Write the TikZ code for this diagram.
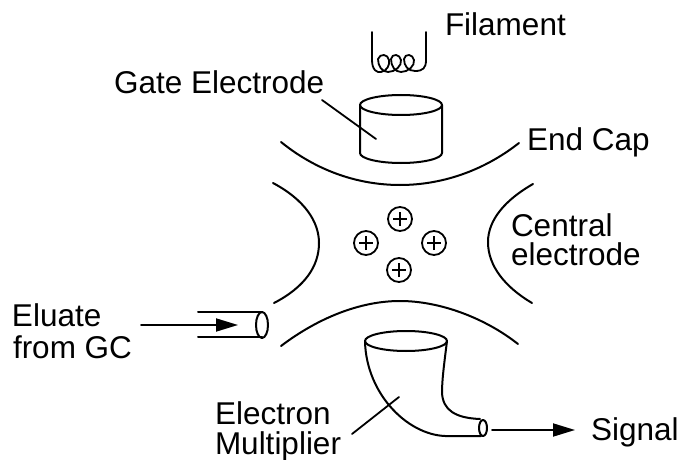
\documentclass[tikz,border=0pt]{standalone}
\usepackage{fontspec}
\setmainfont{Liberation Sans}
\usetikzlibrary{arrows.meta}
\tikzset{
  ln/.style={line width=2pt,black,line join=round,line cap=round},
  thin ln/.style={line width=1.8pt,black,line cap=round},
  lab/.style={font=\fontsize{31.5}{31.5}\selectfont,inner sep=0pt,outer sep=0pt,align=left,text=black},
  arr/.style={thin ln,-{Triangle[length=22pt,width=13pt]}},
  ion/.style={circle,draw,line width=1.8pt,minimum size=24pt,inner sep=0pt,path picture={
    \draw[line width=1.6pt] ([xshift=-7pt]path picture bounding box.center)--([xshift=7pt]path picture bounding box.center);
    \draw[line width=1.6pt] ([yshift=-7pt]path picture bounding box.center)--([yshift=7pt]path picture bounding box.center);}}
}
\begin{document}
\begin{tikzpicture}[x=1pt,y=-1pt]
\useasboundingbox[fill=white] (0,0) rectangle (681,460);
% labels
\node[lab,anchor=base west] (filament) at (445,36) {Filament};
\node[lab,anchor=base west] (gate) at (114,94) {Gate Electrode};
\node[lab,anchor=base west] (endcap) at (527,150) {End Cap};
\node[lab,anchor=base west] (central) at (511,236) {Central};
\node[lab,anchor=base west] (centralb) at (511,265) {electrode};
\node[lab,anchor=base west] (eluate) at (12,326) {Eluate};
\node[lab,anchor=base west] (fromgc) at (13,358) {from GC};
\node[lab,anchor=base west] (electron) at (215,424) {Electron};
\node[lab,anchor=base west] (multiplier) at (215,454) {Multiplier};
\node[lab,anchor=base west] (signal) at (591,440) {Signal};
% ions
\node[ion] (i1) at (400,219) {};
\node[ion] (i2) at (366,243) {};
\node[ion] (i3) at (434,243) {};
\node[ion] (i4) at (399,270) {};
% electrodes
\draw[ln] (281,142) .. controls (318,172) and (360,185) .. (400,185) .. controls (440,185) and (482,172) .. (519,143);
\draw[ln] (281,346) .. controls (318,318) and (360,301) .. (400,301) .. controls (440,301) and (485,318) .. (518,344);
\draw[ln] (273,183) .. controls (305,200) and (319,222) .. (319,243) .. controls (319,266) and (305,287) .. (274,303);
\draw[ln] (533,184) .. controls (505,200) and (488,220) .. (488,242) .. controls (488,266) and (505,287) .. (532,303);
% filament
\draw[line width=1.8pt,line join=round,line cap=round] (372,32) -- (372,60) .. controls (372,70) and (377,73) .. (381,72)
  .. controls (387,71) and (390,65) .. (389,60) .. controls (388,54) and (380,53) .. (378,59)
  .. controls (378,66) and (382,72) .. (388,72) .. controls (395,72) and (402,66) .. (401,60)
  .. controls (400,54) and (392,53) .. (391,59) .. controls (391,66) and (395,72) .. (401,72)
  .. controls (408,72) and (415,66) .. (414,60) .. controls (413,54) and (405,53) .. (404,59)
  .. controls (404,66) and (408,71) .. (415,71) .. controls (423,71) and (426,68) .. (426,60) -- (426,32);
% gate electrode
\draw[ln] (401,105) ellipse [x radius=41,y radius=10];
\draw[ln] (360,105) -- (360,153) arc [start angle=180,end angle=360,x radius=41,y radius=-10] -- (442,105);
\coordinate (gateend) at (376,139);
\coordinate (gatestart) at (322,100);
\draw[thin ln] (gatestart) -- (gateend);
% inlet
\coordinate (inlet) at (238,325);
\coordinate (inletstart) at (141,325);
\draw[ln] (198,312) -- (262,312);
\draw[ln] (198,337) -- (262,337);
\draw[ln] (262,325) ellipse [x radius=6,y radius=13];
\draw[arr] (inletstart) -- (inlet);
% multiplier
\draw[ln] (406,341) ellipse [x radius=41,y radius=10];
\draw[ln] (365,341) .. controls (366,395) and (410,438) .. (450,436) -- (481,436);
\draw[ln] (447,341) .. controls (444,365) and (442,380) .. (442,393) .. controls (443,410) and (455,418) .. (480,419);
\draw[ln] (483,428) ellipse [x radius=4,y radius=8];
\coordinate (mstart) at (352,434);
\coordinate (mend) at (399,397);
\draw[thin ln] (mstart) -- (mend);
\coordinate (sigstart) at (492,430);
\coordinate (sigend) at (575,430);
\draw[arr] (sigstart) -- (sigend);
\end{tikzpicture}
\end{document}
